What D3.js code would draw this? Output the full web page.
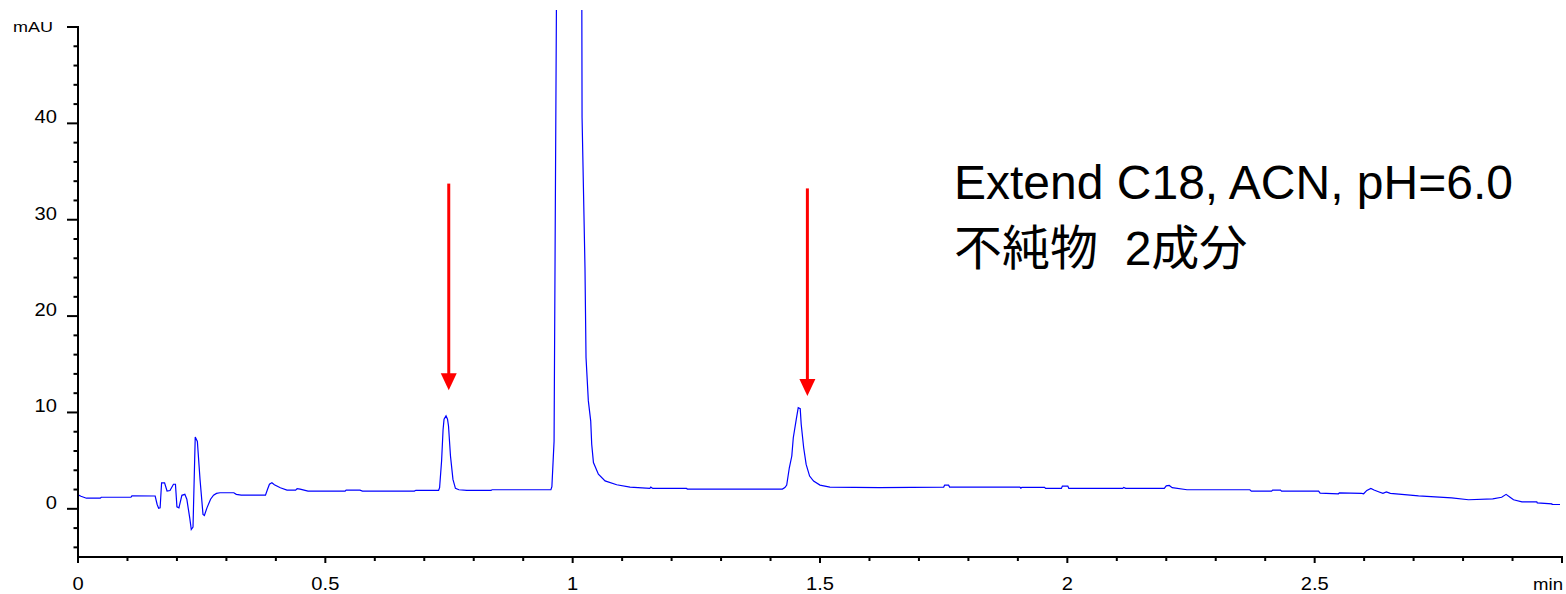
<!DOCTYPE html>
<html lang="ja">
<head>
<meta charset="UTF-8">
<title>Extend C18 chromatogram</title>
<script src="https://d3js.org/d3.v7.min.js"></script>
<style>
  body { margin: 0; background: #fff; }
  svg { display: block; }
  text { font-family: "Liberation Sans", Arial, sans-serif; fill: #000; }
  .axis path, .axis line { stroke: #000; stroke-width: 2; stroke-linecap: square; }
  .trace { fill: none; stroke: #0000ff; stroke-width: 1.2; }
  .note { font-family: "Liberation Sans", Arial, "Noto Sans CJK JP", sans-serif; font-size: 48px; white-space: pre; }
</style>
</head>
<body>
<svg id="chart" width="1566" height="594"></svg>
<script>
// retention time (min) / absorbance (mAU)
const rt = [
  0.000, 0.006, 0.017, 0.045, 0.047, 0.107, 0.109, 0.156, 0.160, 0.163,
  0.166, 0.169, 0.175, 0.180, 0.186, 0.193, 0.197, 0.200, 0.204, 0.210,
  0.216, 0.220, 0.226, 0.229, 0.2325, 0.2370, 0.2413, 0.2467, 0.2527, 0.2555,
  0.2607, 0.2680, 0.2740, 0.2800, 0.2870, 0.3150, 0.3200, 0.3300, 0.3790, 0.3830,
  0.3870, 0.3920, 0.3970, 0.4090, 0.4225, 0.4400, 0.4430, 0.4490, 0.4650, 0.5400,
  0.5420, 0.5700, 0.5750, 0.6800, 0.6830, 0.7290, 0.7310, 0.7350, 0.7380, 0.7400,
  0.7440, 0.7470, 0.7490, 0.7530, 0.7580, 0.7630, 0.7700, 0.7860, 0.8350, 0.8370,
  0.9560, 0.9580, 0.9624, 0.9680, 0.9930, 1.0182, 1.0190, 1.0249, 1.0270, 1.0317,
  1.0365, 1.0385, 1.0420, 1.0520, 1.0655, 1.0890, 1.1160, 1.1560, 1.1580, 1.1620,
  1.2300, 1.2320, 1.4240, 1.4290, 1.4327, 1.4380, 1.4430, 1.4460, 1.4520, 1.4560,
  1.4600, 1.4620, 1.4670, 1.4720, 1.4790, 1.4870, 1.5000, 1.5200, 1.6200, 1.7500,
  1.7520, 1.7600, 1.7620, 1.9040, 1.9060, 1.9080, 1.9540, 1.9560, 1.9880, 1.9900,
  2.0010, 2.0030, 2.1120, 2.1140, 2.1180, 2.1960, 2.2000, 2.2060, 2.2120, 2.2420,
  2.3690, 2.3720, 2.4130, 2.4150, 2.4310, 2.4330, 2.5080, 2.5110, 2.5480, 2.5500,
  2.5950, 2.5990, 2.6055, 2.6136, 2.6200, 2.6290, 2.6380, 2.6450, 2.6530, 2.6760,
  2.7100, 2.7770, 2.8110, 2.8600, 2.8780, 2.8870, 2.8950, 2.9020, 2.9190, 2.9490,
  2.9500, 2.9795, 2.9800, 2.9960
];
const mau = [
  1.45, 1.30, 1.10, 1.10, 1.20, 1.20, 1.35, 1.33, 0.45, 0.05,
  0.10, 2.70, 2.70, 1.85, 1.90, 2.55, 2.55, 0.20, 0.10, 1.40,
  1.50, 1.00, -1.00, -2.15, -1.90, 7.45, 7.00, 3.05, -0.58, -0.70,
  0.10, 1.00, 1.42, 1.60, 1.67, 1.67, 1.50, 1.42, 1.42, 2.00,
  2.55, 2.70, 2.50, 2.18, 1.94, 1.94, 2.10, 2.05, 1.84, 1.84,
  1.94, 1.94, 1.84, 1.84, 1.92, 1.92, 2.20, 4.96, 8.20, 9.29,
  9.64, 9.30, 8.60, 5.48, 3.05, 2.12, 1.98, 1.91, 1.91, 1.98,
  1.98, 2.30, 7.00, 60, 400, 60, 40.6, 25.0, 15.7, 11.2,
  9.10, 6.70, 4.80, 3.60, 2.90, 2.50, 2.26, 2.12, 2.25, 2.12,
  2.12, 2.05, 2.05, 2.20, 2.46, 4.26, 5.48, 7.38, 9.29, 10.50,
  10.40, 8.77, 6.34, 4.61, 3.40, 2.88, 2.46, 2.26, 2.20, 2.26,
  2.46, 2.46, 2.26, 2.26, 2.15, 2.22, 2.22, 2.12, 2.12, 2.36,
  2.36, 2.12, 2.12, 2.22, 2.12, 2.12, 2.38, 2.43, 2.20, 1.98,
  1.98, 1.84, 1.84, 1.94, 1.94, 1.84, 1.84, 1.63, 1.56, 1.66,
  1.60, 1.56, 1.91, 2.12, 1.95, 1.77, 1.60, 1.75, 1.60, 1.50,
  1.35, 1.14, 0.94, 1.04, 1.20, 1.50, 1.20, 0.94, 0.73, 0.73,
  0.62, 0.52, 0.45, 0.45
];

// red arrows pointing at the two impurity peaks
const arrowRt = [0.7495, 1.4745];
const arrowFrom = [33.75, 33.25];
const arrowTo = [12.3, 11.7];

const xMajor = [0, 0.5, 1, 1.5, 2, 2.5, 3];
const xLabels = ["0", "0.5", "1", "1.5", "2", "2.5", "min"];
const yMajor = [0, 10, 20, 30, 40, 50];
const yLabels = ["0", "10", "20", "30", "40", "mAU"];
const noteLines = ["Extend C18, ACN, pH=6.0", "不純物  2成分"];

const x = d3.scaleLinear().domain([0, 3]).range([78, 1562]);
const y = d3.scaleLinear().domain([-5, 50]).range([557, 27]);
const svg = d3.select("#chart");

const xMinor = d3.range(1, 30).filter(i => i % 5).map(i => i / 10);
const yMinor = d3.range(-4, 50, 2).filter(v => v % 10 !== 0);

// trace, clipped a bit above the axis top like the instrument plot
svg.append("defs").append("clipPath").attr("id", "plot")
  .append("rect")
  .attr("x", x(0)).attr("y", 10)
  .attr("width", x(3) - x(0)).attr("height", y(-5) - 10);

const line = d3.line().x(i => x(rt[i])).y(i => y(mau[i]));
svg.append("path")
  .datum(d3.range(rt.length))
  .attr("class", "trace")
  .attr("clip-path", "url(#plot)")
  .attr("d", line);

// y axis: minor ticks then major ticks with labels
svg.append("g").attr("class", "axis")
  .attr("transform", `translate(${x(0)},0)`)
  .call(d3.axisLeft(y).tickValues(yMinor).tickSize(3.5).tickSizeOuter(0).tickFormat("").offset(0));

const yAxis = svg.append("g").attr("class", "axis")
  .attr("transform", `translate(${x(0)},0)`)
  .call(d3.axisLeft(y).tickValues(yMajor).tickSize(10).tickSizeOuter(0)
    .tickFormat((d, i) => yLabels[i]).offset(0));
yAxis.attr("font-family", null).attr("font-size", null);
yAxis.selectAll("text")
  .attr("x", 0).attr("dy", null)
  .style("font-size", d => d === 50 ? "15.5px" : "17.5px")
  .attr("transform", d => d === 50 ? "translate(-25,5) scale(1.16,1)" : "translate(-21,0) scale(1.15,1)");

// x axis
svg.append("g").attr("class", "axis")
  .attr("transform", `translate(0,${y(-5)})`)
  .call(d3.axisBottom(x).tickValues(xMinor).tickSize(3).tickSizeOuter(0).tickFormat("").offset(0));

const xAxis = svg.append("g").attr("class", "axis")
  .attr("transform", `translate(0,${y(-5)})`)
  .call(d3.axisBottom(x).tickValues(xMajor).tickSize(5).tickSizeOuter(0)
    .tickFormat((d, i) => xLabels[i]).offset(0));
xAxis.attr("font-family", null).attr("font-size", null);
xAxis.selectAll("text")
  .attr("y", 0).attr("dy", null)
  .attr("text-anchor", d => d === 3 ? "end" : "middle")
  .style("font-size", d => d === 3 ? "16px" : "17.5px")
  .attr("transform", d => d === 3 ? "translate(1,33) scale(1.16,1)" : "translate(0,33) scale(1.15,1)");

// arrows
const arrows = svg.append("g").selectAll("g").data(arrowRt).join("g");
arrows.append("line")
  .attr("x1", d => x(d)).attr("x2", d => x(d))
  .attr("y1", (d, i) => y(arrowFrom[i]))
  .attr("y2", (d, i) => y(arrowTo[i]) - 15)
  .attr("stroke", "#ff0000").attr("stroke-width", 3);
arrows.append("path")
  .attr("d", (d, i) => {
    const tx = x(d), ty = y(arrowTo[i]);
    return `M${tx - 8},${ty - 17}L${tx + 8},${ty - 17}L${tx},${ty}Z`;
  })
  .attr("fill", "#ff0000");

// annotation
svg.append("g").selectAll("text").data(noteLines).join("text")
  .attr("class", "note")
  .attr("x", 954)
  .attr("y", (d, i) => i ? 265 : 199)
  .text(d => d);
</script>
</body>
</html>
